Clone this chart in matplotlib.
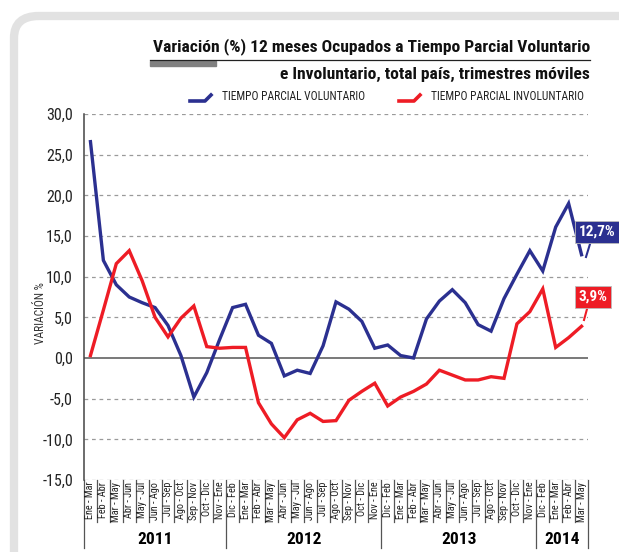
import matplotlib.pyplot as plt
from matplotlib.lines import Line2D
from matplotlib.patches import FancyBboxPatch, Rectangle
import numpy as np

# periods (rolling quarters)
periodos = [
    "Ene - Mar", "Feb - Abr", "Mar - May", "Abr - Jun", "May - Jul", "Jun - Ago",
    "Jul - Sep", "Ago - Oct", "Sep - Nov", "Oct - Dic", "Nov - Ene",
    "Dic - Feb", "Ene - Mar", "Feb - Abr", "Mar - May", "Abr - Jun", "May - Jul",
    "Jun - Ago", "Jul - Sep", "Ago - Oct", "Sep - Nov", "Oct - Dic", "Nov - Ene",
    "Dic - Feb", "Ene - Mar", "Feb - Abr", "Mar - May", "Abr - Jun", "May - Jul",
    "Jun - Ago", "Jul - Sep", "Ago - Oct", "Sep - Nov", "Oct - Dic", "Nov - Ene",
    "Dic - Feb", "Ene - Mar", "Feb - Abr", "Mar - May",
]
anios = ["2011", "2012", "2013", "2014"]
periodos_por_anio = [11, 12, 12, 4]

voluntario = [
    26.6, 12.0, 9.0, 7.5, 6.8, 6.2, 4.0, 0.3, -4.8, -1.8, 2.3,
    6.2, 6.6, 2.8, 1.8, -2.2, -1.5, -1.9, 1.5, 6.9, 6.0, 4.5, 1.2,
    1.6, 0.3, 0.0, 4.8, 7.0, 8.4, 6.8, 4.1, 3.3, 7.3, 10.3, 13.2,
    10.7, 16.1, 19.0, 12.7,
]
involuntario = [
    0.3, 5.9, 11.6, 13.2, 9.5, 5.0, 2.6, 4.9, 6.4, 1.4, 1.2,
    1.3, 1.3, -5.5, -8.1, -9.8, -7.6, -6.8, -7.8, -7.7, -5.2, -4.1, -3.1,
    -5.9, -4.8, -4.1, -3.2, -1.5, -2.1, -2.7, -2.7, -2.3, -2.5, 4.2, 5.7,
    8.5, 1.3, 2.5, 3.9,
]

BLUE = "#2b3090"
RED = "#ee1c25"
NARROW = ["Liberation Sans Narrow", "Roboto Condensed", "Liberation Sans", "DejaVu Sans"]

W, H = 619, 552


def fx(x):
    return x / W


def fy(y):
    return 1 - y / H


fig = plt.figure(figsize=(W / 100, H / 100), dpi=100)
fig.patch.set_facecolor("white")

# rounded grey frame
frame = FancyBboxPatch((fx(14), fy(700)), fx(700), fy(16) - fy(700),
                       boxstyle="round,pad=0,rounding_size=0.04",
                       transform=fig.transFigure, facecolor="white",
                       edgecolor="#e2e2e2", linewidth=6, zorder=-10)
fig.patches.append(frame)

left, right, top, bottom = 84, 588, 114, 480
ax = fig.add_axes([fx(left), fy(bottom), fx(right) - fx(left), fy(top) - fy(bottom)])
ax.set_facecolor("none")

n = len(periodos)
x = np.arange(n)
ax.plot(x, voluntario, color=BLUE, lw=2.4, solid_joinstyle="miter", zorder=3)
ax.plot(x, involuntario, color=RED, lw=2.4, solid_joinstyle="miter", zorder=3)

ax.set_xlim(-0.5, n - 0.5)
ax.set_ylim(-15, 30)
yt = np.arange(-15, 31, 5)
ax.set_yticks(yt)
ax.set_yticklabels([f"{v:.1f}".replace(".", ",") for v in yt], family=NARROW, fontsize=11.5, color="#222222")
for v in yt:
    if v != 0:
        ax.axhline(v, color="#9a9a9a", lw=0.9, ls=(0, (3, 3)), zorder=1)
ax.axhline(0, color="#555555", lw=1.1, zorder=2)
ax.set_xticks([])
for s in ["top", "right", "bottom"]:
    ax.spines[s].set_visible(False)
ax.spines["left"].set_color("#444444")
ax.spines["left"].set_linewidth(1.1)
ax.spines["left"].set_bounds(-15, 30)
ax.tick_params(axis="y", length=0, pad=8)
fig.text(fx(40), fy(313), "VARIACIÓN %", rotation=90, ha="center", va="center",
         family=NARROW, fontsize=8.3, color="#333333")

# period labels with separators
tr = ax.get_xaxis_transform()
span = bottom - top
lab_bot = -(522 - 480) / span
year_bot = -(548 - 480) / span
for i, p in enumerate(periodos):
    ax.text(i, -0.005, p, rotation=90, ha="center", va="top",
            family=NARROW, fontsize=7.4, color="#222222", transform=tr, clip_on=False)
bounds = np.cumsum([0] + periodos_por_anio)
for k in range(n + 1):
    y0 = year_bot if k in bounds else lab_bot
    ax.add_line(Line2D([k - 0.5, k - 0.5], [0, y0], color="#555555", lw=0.9,
                       transform=tr, clip_on=False))
for a, b0, b1 in zip(anios, bounds[:-1], bounds[1:]):
    ax.text((b0 + b1 - 1) / 2, -(540 - 480) / span, a, ha="center", va="center",
            family=NARROW, fontsize=12.5, fontweight="bold", transform=tr, clip_on=False)


# end value callouts
def callout(txt, color, box_xy, tip):
    bx, by = box_xy
    fig.text(fx(bx), fy(by), txt, ha="center", va="center", family=NARROW,
             fontsize=11, fontweight="bold", color="white",
             bbox=dict(boxstyle="square,pad=0.25", fc=color, ec="#bbbbbb", lw=0.6))
    fig.lines.append(Line2D([fx(tip[0][0]), fx(tip[1][0])], [fy(tip[0][1]), fy(tip[1][1])],
                            color=color, lw=1.5, transform=fig.transFigure))


callout(f"{voluntario[-1]:.1f}%".replace(".", ","), BLUE, (597, 232), ((590, 244), (586, 257)))
callout(f"{involuntario[-1]:.1f}%".replace(".", ","), RED, (593, 297), ((587, 309), (584, 320)))

# title
fig.text(fx(590), fy(47), "Variación (%) 12 meses Ocupados a Tiempo Parcial Voluntario",
         ha="right", va="center", family=NARROW, fontsize=12.6, fontweight="bold", color="#111111")
fig.text(fx(590), fy(74), "e Involuntario, total país, trimestres móviles",
         ha="right", va="center", family=NARROW, fontsize=12.6, fontweight="bold", color="#111111")
fig.lines.append(Line2D([fx(150), fx(590)], [fy(60), fy(60)], color="#222222", lw=0.9,
                        transform=fig.transFigure))
fig.patches.append(Rectangle((fx(150), fy(66)), fx(66), fy(61) - fy(66), color="#808080",
                             transform=fig.transFigure))

# legend
for x0, color, txt in [(190, BLUE, "TIEMPO PARCIAL VOLUNTARIO"), (399, RED, "TIEMPO PARCIAL INVOLUNTARIO")]:
    fig.lines.append(Line2D([fx(x0), fx(x0 + 15), fx(x0 + 21)], [fy(101), fy(101), fy(95)],
                            color=color, lw=2.6, transform=fig.transFigure))
    fig.text(fx(x0 + 32), fy(97), txt, ha="left", va="center", family=NARROW,
             fontsize=8.3, color="#222222")

fig.savefig("out.png", dpi=100)
